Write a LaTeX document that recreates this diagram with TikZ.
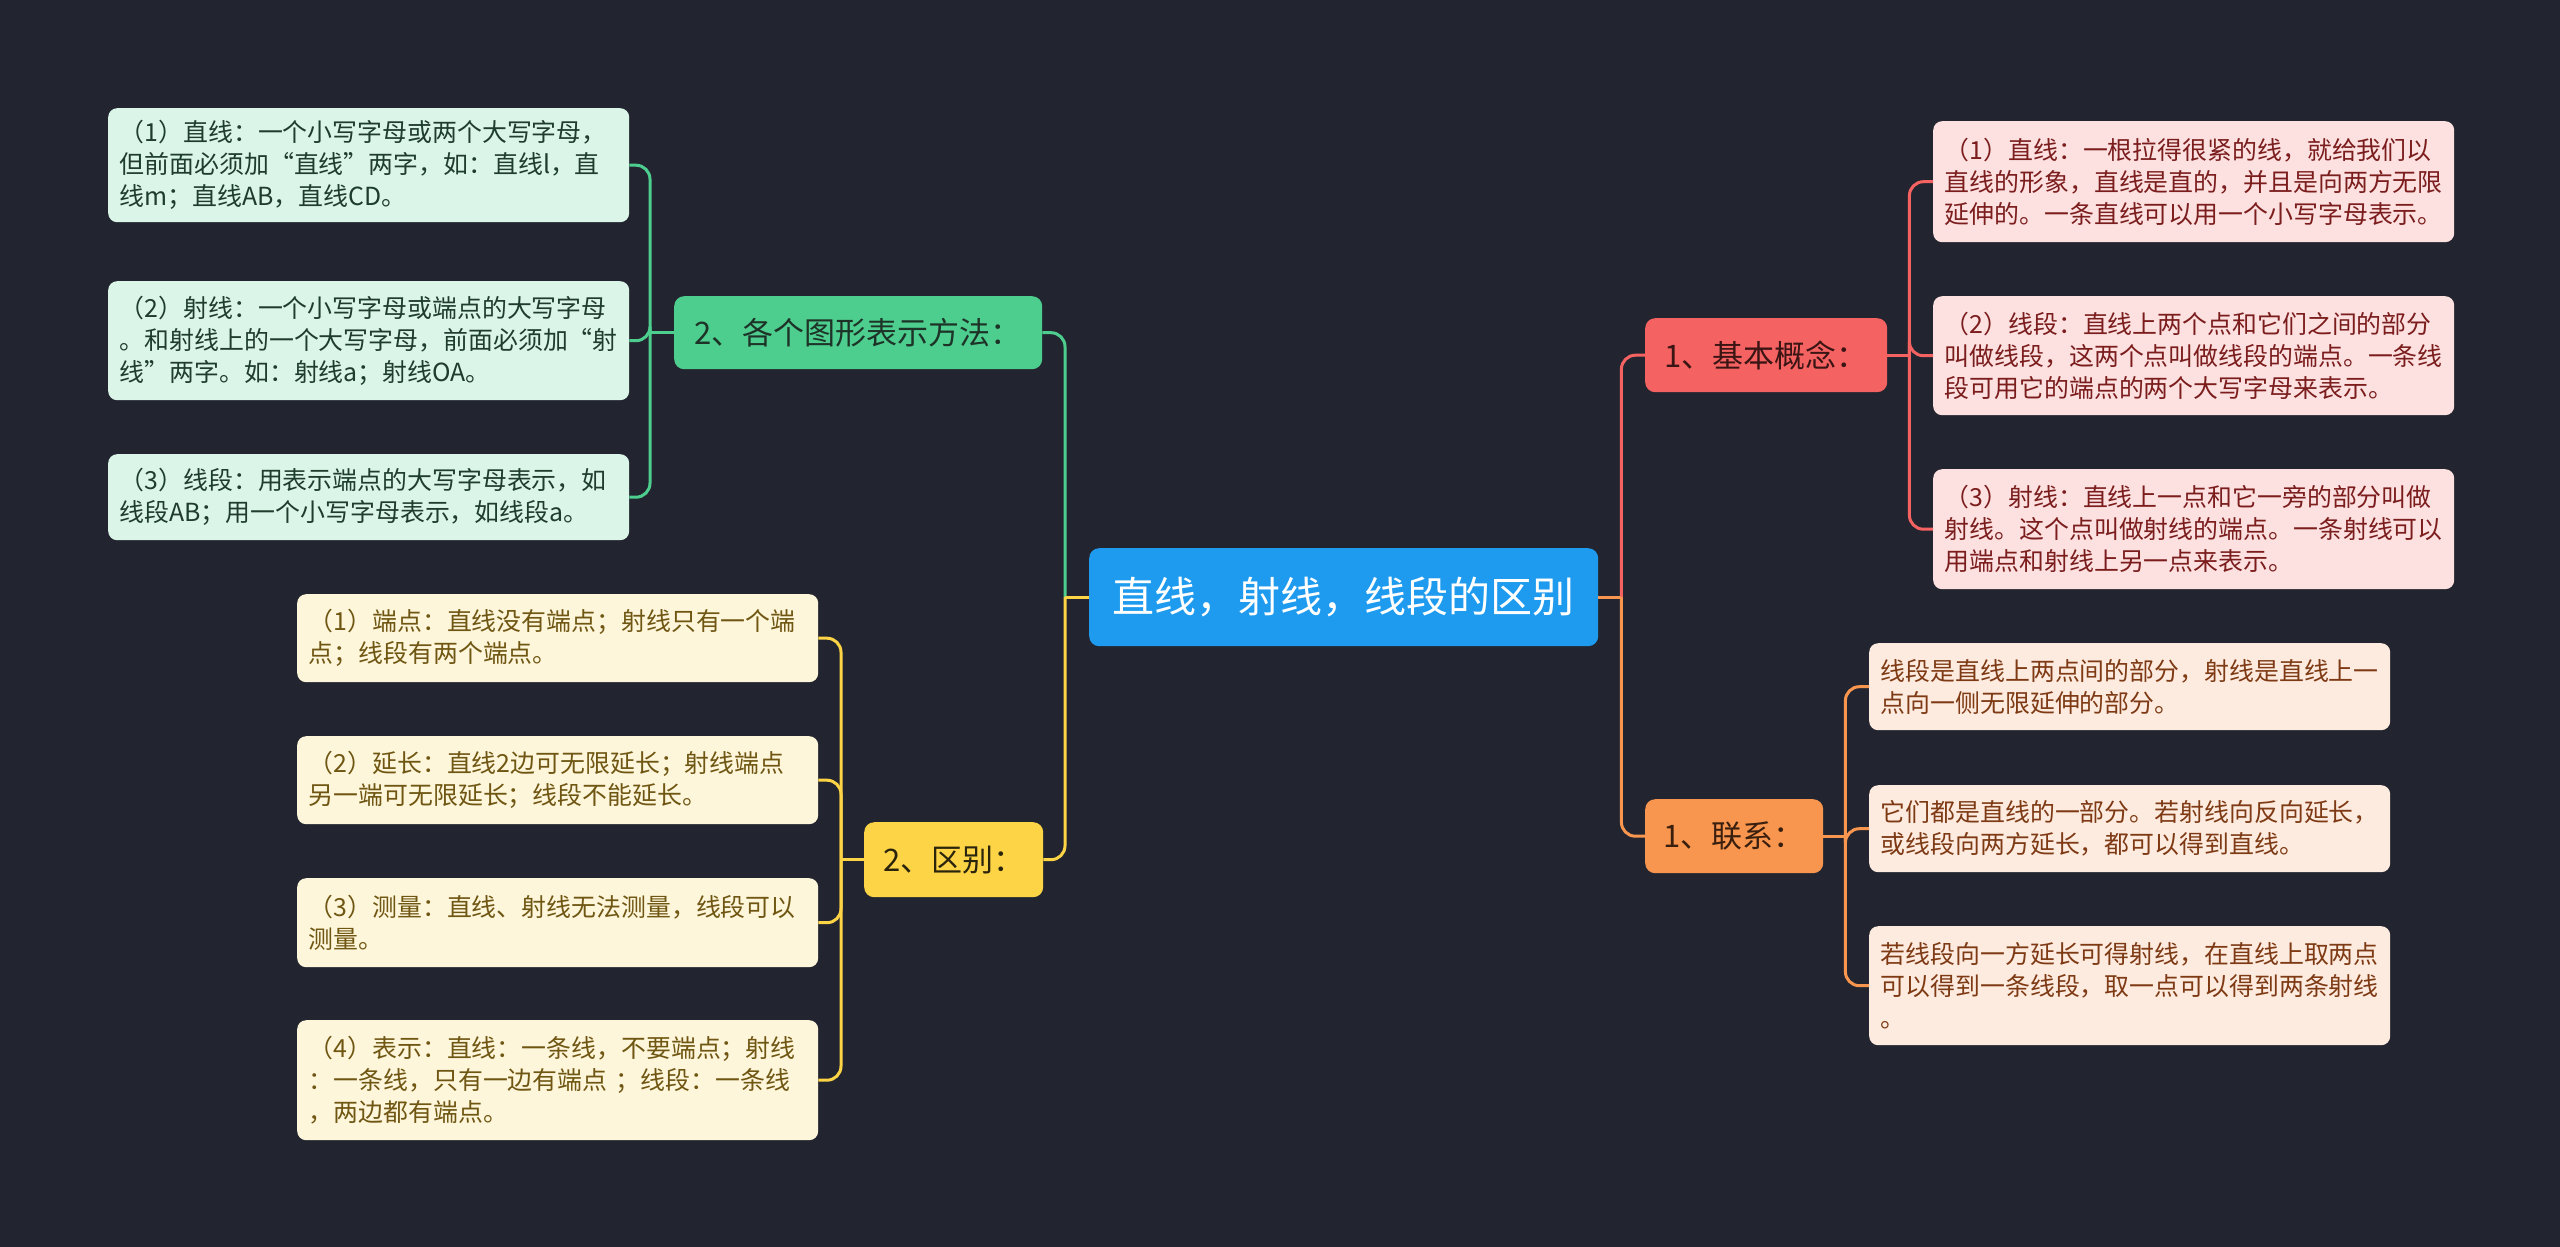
\documentclass[tikz,border=0pt]{standalone}
\usepackage{fontspec}
\setmainfont{Noto Sans CJK SC}
\definecolor{bgc}{HTML}{22252F}
\definecolor{rootc}{HTML}{1E9BEF}
\definecolor{grc}{HTML}{4DCE8F}
\definecolor{grleaf}{HTML}{DBF5E9}
\definecolor{grtext}{HTML}{1F3D2C}
\definecolor{grsub}{HTML}{1E3327}
\definecolor{ylc}{HTML}{FDD446}
\definecolor{ylleaf}{HTML}{FEF6DB}
\definecolor{yltext}{HTML}{6F5612}
\definecolor{ylsub}{HTML}{2A240D}
\definecolor{rdc}{HTML}{F46262}
\definecolor{rdleaf}{HTML}{FDE1E1}
\definecolor{rdtext}{HTML}{7B1D1D}
\definecolor{rdsub}{HTML}{3B1414}
\definecolor{orc}{HTML}{F8964F}
\definecolor{orleaf}{HTML}{FEEBDF}
\definecolor{ortext}{HTML}{7D3A14}
\definecolor{orsub}{HTML}{3A1F0E}
\begin{document}
\begin{tikzpicture}[x=1pt,y=-1pt,
  leaf/.style={rounded corners=9pt, anchor=north west, inner xsep=11.5pt, inner ysep=0pt,
    text width=498pt, align=left, font=\fontsize{24.9}{32}\selectfont},
  subt/.style={rounded corners=10pt, anchor=north west, inner sep=0pt, align=center,
    font=\fontsize{31}{36}\selectfont},
  conn/.style={line width=3pt, rounded corners=14pt},
  stub/.style={line width=3pt},
]
\useasboundingbox (0,0) rectangle (2560,1247);
\fill[bgc] (0,0) rectangle (2560,1247);

% root
\node[rounded corners=10pt, anchor=north west, fill=rootc, text=white, minimum width=509pt, minimum height=98pt,
  inner sep=0pt, font=\fontsize{42}{48}\selectfont] (root) at (1089,548) {直线，射线，线段的区别};

% subtopics
\node[subt, fill=grc, text=grsub, minimum width=368pt, minimum height=73pt] (sg) at (674,296) {2、各个图形表示方法：};
\node[subt, fill=ylc, text=ylsub, minimum width=179pt, minimum height=75pt] (sy) at (864,822) {2、区别：};
\node[subt, fill=rdc, text=rdsub, minimum width=242pt, minimum height=74pt] (sr) at (1645,318) {1、基本概念：};
\node[subt, fill=orc, text=orsub, minimum width=178pt, minimum height=74pt] (so) at (1645,799) {1、联系：};

% green leaves
\node[leaf, fill=grleaf, text=grtext, minimum height=114pt] (g1) at (108,108)
 {（1）直线：一个小写字母或两个大写字母，\\但前面必须加“直线”两字，如：直线l，直\\线m；直线AB，直线CD。};
\node[leaf, fill=grleaf, text=grtext, minimum height=119pt] (g2) at (108,281)
 {（2）射线：一个小写字母或端点的大写字母\\。和射线上的一个大写字母，前面必须加“射\\线”两字。如：射线a；射线OA。};
\node[leaf, fill=grleaf, text=grtext, minimum height=86pt] (g3) at (108,454)
 {（3）线段：用表示端点的大写字母表示，如\\线段AB；用一个小写字母表示，如线段a。};

% yellow leaves
\node[leaf, fill=ylleaf, text=yltext, minimum height=88pt] (y1) at (297,594)
 {（1）端点：直线没有端点；射线只有一个端\\点；线段有两个端点。};
\node[leaf, fill=ylleaf, text=yltext, minimum height=88pt] (y2) at (297,736)
 {（2）延长：直线2边可无限延长；射线端点\\另一端可无限延长；线段不能延长。};
\node[leaf, fill=ylleaf, text=yltext, minimum height=89pt] (y3) at (297,878)
 {（3）测量：直线、射线无法测量，线段可以\\测量。};
\node[leaf, fill=ylleaf, text=yltext, minimum height=120pt] (y4) at (297,1020)
 {（4）表示：直线：一条线，不要端点；射线\\：一条线，只有一边有端点 ；线段：一条线\\，两边都有端点。};

% red leaves
\node[leaf, fill=rdleaf, text=rdtext, minimum height=121pt] (r1) at (1933,121)
 {（1）直线：一根拉得很紧的线，就给我们以\\直线的形象，直线是直的，并且是向两方无限\\延伸的。一条直线可以用一个小写字母表示。};
\node[leaf, fill=rdleaf, text=rdtext, minimum height=119pt] (r2) at (1933,296)
 {（2）线段：直线上两个点和它们之间的部分\\叫做线段，这两个点叫做线段的端点。一条线\\段可用它的端点的两个大写字母来表示。};
\node[leaf, fill=rdleaf, text=rdtext, minimum height=120pt] (r3) at (1933,469)
 {（3）射线：直线上一点和它一旁的部分叫做\\射线。这个点叫做射线的端点。一条射线可以\\用端点和射线上另一点来表示。};

% orange leaves
\node[leaf, fill=orleaf, text=ortext, minimum height=87pt] (o1) at (1869,643)
 {线段是直线上两点间的部分，射线是直线上一\\点向一侧无限延伸的部分。};
\node[leaf, fill=orleaf, text=ortext, minimum height=87pt] (o2) at (1869,785)
 {它们都是直线的一部分。若射线向反向延长，\\或线段向两方延长，都可以得到直线。};
\node[leaf, fill=orleaf, text=ortext, minimum height=119pt] (o3) at (1869,926)
 {若线段向一方延长可得射线，在直线上取两点\\可以得到一条线段，取一点可以得到两条射线\\。};

% junction coordinates
\coordinate (jl) at ([xshift=-24pt]root.west);
\coordinate (jr) at ([xshift=23pt]root.east);
\coordinate (jg) at ([xshift=-24pt]sg.west);
\coordinate (jy) at ([xshift=-23pt]sy.west);
\coordinate (jrr) at ([xshift=22pt]sr.east);
\coordinate (jo) at ([xshift=22pt]so.east);

% root connectors
\draw[conn, grc] (jl) |- (sg.east);
\draw[stub, grc] (root.west) -- (jl);
\draw[conn, ylc] (jl) |- (sy.east);
\draw[stub, ylc] (root.west) -- (jl);
\draw[conn, rdc] (jr) |- (sr.west);
\draw[stub, rdc] (root.east) -- (jr);
\draw[conn, orc] (jr) |- (so.west);
\draw[stub, orc] (root.east) -- (jr);

% green
\draw[stub, grc] (sg.west) -- (jg);
\draw[conn, grc] (jg) |- (g1.east);
\draw[conn, grc] (jg) |- (g2.east);
\draw[conn, grc] (jg) |- (g3.east);
% yellow
\draw[stub, ylc] (sy.west) -- (jy);
\draw[conn, ylc] (jy) |- (y1.east);
\draw[conn, ylc] (jy) |- (y2.east);
\draw[conn, ylc] (jy) |- (y3.east);
\draw[conn, ylc] (jy) |- (y4.east);
% red
\draw[stub, rdc] (sr.east) -- (jrr);
\draw[conn, rdc] (jrr) |- (r1.west);
\draw[conn, rdc] (jrr) |- (r2.west);
\draw[conn, rdc] (jrr) |- (r3.west);
% orange
\draw[stub, orc] (so.east) -- (jo);
\draw[conn, orc] (jo) |- (o1.west);
\draw[conn, orc] (jo) |- (o2.west);
\draw[conn, orc] (jo) |- (o3.west);
\end{tikzpicture}
\end{document}
